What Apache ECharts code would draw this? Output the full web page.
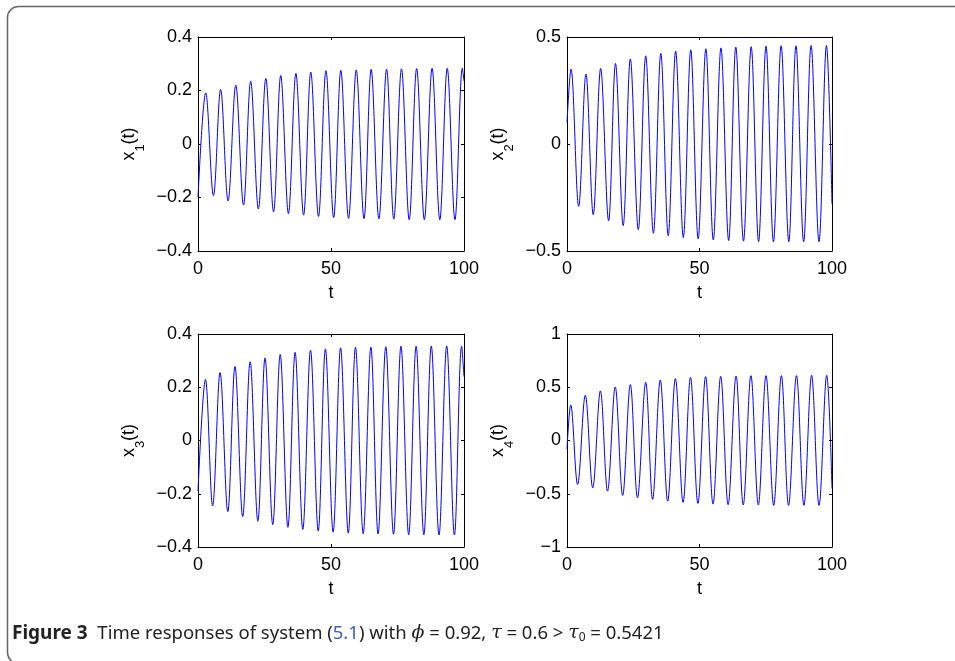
<!DOCTYPE html>
<html>
<head>
<meta charset="utf-8">
<script src="https://cdn.jsdelivr.net/npm/echarts@6/dist/echarts.min.js"></script>
<style>html,body{margin:0;padding:0;background:#fff}#c{width:955px;height:661px}</style>
</head>
<body>
<div id="c"></div>
<script>
// ---- data (times of extrema and their values) ----
const x1T = [0, 2.9, 5.8, 8.5, 11.3, 14.2, 17.1, 19.8, 22.7, 25.5, 28.4, 31.1, 34.0, 36.8, 39.7, 42.4, 45.3, 48.1, 51.0, 53.7, 56.6, 59.5, 62.4, 65.1, 68.0, 70.9, 73.6, 76.5, 79.4, 82.2, 85.1, 88.0, 90.9, 93.7, 96.6, 99.4, 100];
const x1V = [-0.2, 0.191, -0.193, 0.204, -0.213, 0.220, -0.228, 0.235, -0.243, 0.245, -0.254, 0.256, -0.260, 0.264, -0.266, 0.269, -0.271, 0.274, -0.275, 0.275, -0.278, 0.277, -0.279, 0.279, -0.280, 0.280, -0.281, 0.281, -0.283, 0.282, -0.283, 0.283, -0.283, 0.283, -0.283, 0.283, 0.235];

const x2T = [0, 1.5, 4.4, 7.15, 9.9, 12.7, 15.7, 18.3, 21.2, 23.9, 26.9, 29.7, 32.6, 35.4, 38.2, 41.0, 43.9, 46.7, 49.5, 52.4, 55.2, 58.1, 61.0, 63.7, 66.6, 69.5, 72.3, 75.1, 77.9, 80.8, 83.7, 86.4, 89.3, 92.1, 95.1, 97.9, 100];
const x2V = [0.10, 0.350, -0.291, 0.327, -0.330, 0.353, -0.359, 0.376, -0.381, 0.397, -0.400, 0.412, -0.417, 0.423, -0.428, 0.434, -0.437, 0.440, -0.443, 0.445, -0.448, 0.449, -0.451, 0.453, -0.454, 0.455, -0.456, 0.457, -0.457, 0.459, -0.457, 0.459, -0.457, 0.460, -0.457, 0.460, -0.28];

const x3T = [0, 2.8, 5.5, 8.3, 11.2, 13.9, 16.8, 19.6, 22.5, 25.2, 28.1, 30.9, 33.8, 36.5, 39.4, 42.3, 45.2, 47.9, 50.8, 53.6, 56.5, 59.2, 62.1, 65.0, 67.7, 70.6, 73.5, 76.3, 79.2, 82.0, 84.9, 87.7, 90.6, 93.5, 96.4, 99.1, 100];
const x3V = [-0.19, 0.229, -0.246, 0.255, -0.267, 0.278, -0.286, 0.296, -0.303, 0.310, -0.316, 0.323, -0.326, 0.331, -0.334, 0.339, -0.340, 0.344, -0.344, 0.348, -0.348, 0.350, -0.350, 0.351, -0.351, 0.352, -0.352, 0.354, -0.354, 0.354, -0.354, 0.355, -0.355, 0.355, -0.355, 0.354, 0.24];

const x4T = [0, 1.4, 4.0, 6.9, 9.7, 12.6, 15.3, 18.2, 21.0, 23.9, 26.6, 29.7, 32.3, 35.2, 38.0, 40.9, 43.8, 46.6, 49.4, 52.3, 55.1, 58.0, 60.8, 63.8, 66.5, 69.4, 72.2, 75.1, 78.0, 80.9, 83.6, 86.6, 89.4, 92.3, 95.1, 98.0, 100];
const x4V = [-0.08, 0.334, -0.413, 0.425, -0.444, 0.466, -0.475, 0.503, -0.516, 0.525, -0.538, 0.547, -0.553, 0.569, -0.569, 0.581, -0.581, 0.594, -0.591, 0.600, -0.597, 0.603, -0.603, 0.606, -0.606, 0.609, -0.606, 0.609, -0.609, 0.609, -0.609, 0.609, -0.609, 0.612, -0.609, 0.612, -0.45];

const xTicks = [0, 50, 100];
const yRanges = [[-0.4, 0.4, 0.2], [-0.5, 0.5, 0.5], [-0.4, 0.4, 0.2], [-1, 1, 0.5]];
const subs = ['1', '2', '3', '4'];
const seriesT = [x1T, x2T, x3T, x4T];
const seriesV = [x1V, x2V, x3V, x4V];

// ---- layout ----
const FONT = 'Liberation Sans, Arial, Helvetica, sans-serif';
const grids = [
  {left: 198, top: 37, width: 266, height: 214},
  {left: 567, top: 37, width: 265, height: 214},
  {left: 198, top: 334, width: 266, height: 213},
  {left: 567, top: 334, width: 265, height: 213}
];

function fmt(v) {
  const r = parseFloat(Number(v).toFixed(3));
  if (r === 0) return '0';
  return (r < 0 ? '\u2212' : '') + String(Math.abs(r));
}

const chart = echarts.init(document.getElementById('c'), null, {renderer: 'canvas'});
const xAxis = [], yAxis = [], series = [];
grids.forEach((g, i) => {
  const [ymin, ymax, yint] = yRanges[i];
  const common = {
    gridIndex: i, type: 'value',
    axisLine: {show: true, onZero: false, lineStyle: {color: '#000', width: 1}},
    axisTick: {show: true, inside: true, length: 3, lineStyle: {color: '#000'}},
    splitLine: {show: false}
  };
  xAxis.push(Object.assign({}, common, {
    position: 'bottom', min: xTicks[0], max: xTicks[xTicks.length - 1], interval: xTicks[1] - xTicks[0],
    axisLabel: {show: true, margin: 9, color: '#000', fontSize: 18, fontFamily: FONT, formatter: fmt},
    name: 't', nameLocation: 'middle', nameGap: 33,
    nameTextStyle: {color: '#000', fontSize: 18, fontFamily: FONT}
  }));
  xAxis.push(Object.assign({}, common, {
    position: 'top', min: xTicks[0], max: xTicks[xTicks.length - 1], interval: xTicks[1] - xTicks[0],
    axisLabel: {show: false}
  }));
  yAxis.push(Object.assign({}, common, {
    position: 'left', min: ymin, max: ymax, interval: yint,
    axisLabel: {show: true, margin: 6, color: '#000', fontSize: 18, fontFamily: FONT, formatter: fmt},
    name: '{a|x}{b|' + subs[i] + '}{a|(t)}', nameLocation: 'middle', nameGap: 58, nameRotate: 90,
    nameTextStyle: {
      color: '#000', fontFamily: FONT,
      rich: {
        a: {fontSize: 18, fontFamily: FONT, color: '#000', lineHeight: 20, verticalAlign: 'top'},
        b: {fontSize: 13, fontFamily: FONT, color: '#000', lineHeight: 13, verticalAlign: 'top', padding: [14, 0, 0, 0]}
      }
    }
  }));
  yAxis.push(Object.assign({}, common, {
    position: 'right', min: ymin, max: ymax, interval: yint,
    axisLabel: {show: false}
  }));
  series.push({
    type: 'line', xAxisIndex: 2 * i, yAxisIndex: 2 * i,
    data: seriesT[i].map((t, k) => [t, seriesV[i][k]]),
    smooth: 0.36, showSymbol: false, symbol: 'none',
    lineStyle: {color: '#0000ff', width: 1}, animation: false
  });
});

chart.setOption({
  animation: false,
  backgroundColor: '#fff',
  grid: grids.map(g => Object.assign({containLabel: false}, g)),
  xAxis, yAxis, series,
  graphic: [
    {type: 'rect', shape: {x: 7.5, y: 6.5, width: 1000, height: 657, r: 11},
     style: {fill: 'none', stroke: '#666', lineWidth: 1.5}, silent: true},
    {type: 'text', left: 12, top: 624,
     style: {
       text: '{b|Figure 3}  {n|Time responses of system (}{l|5.1}{n|) with }{i|\u03D5}{n| = 0.92, }{i|\u03C4}{n| = 0.6 > }{i|\u03C4}{s|0}{n| = 0.5421}',
       font: '18.5px Noto Sans', fill: '#222',
       rich: {
         b: {fontFamily: 'Noto Sans', fontWeight: 'bold', fontSize: 19, fill: '#222'},
         n: {fontFamily: 'Noto Sans', fontSize: 18.5, fill: '#222'},
         l: {fontFamily: 'Noto Sans', fontSize: 18.5, fill: '#3b5bd6'},
         i: {fontFamily: 'DejaVu Serif', fontStyle: 'italic', fontSize: 19, fill: '#222'},
         s: {fontFamily: 'Noto Sans', fontSize: 12, fill: '#222', verticalAlign: 'bottom', padding: [9, 0, 0, 0]}
       }
     }}
  ]
});
</script>
</body>
</html>
